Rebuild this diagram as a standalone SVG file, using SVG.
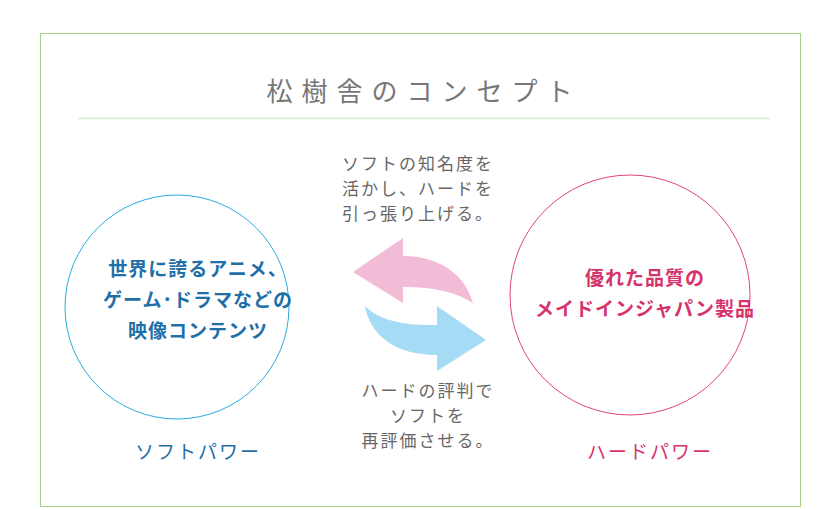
<svg xmlns="http://www.w3.org/2000/svg" width="840" height="510" viewBox="0 0 840 510">
<style>
.t{font-family:"Liberation Serif","Noto Sans CJK JP",serif;}
.g{fill:#666;font-size:17px;}
.b{font-weight:bold;font-size:19px;}
</style>
<rect width="840" height="510" fill="#fff"/>
<rect x="40.5" y="33.5" width="760" height="473" fill="none" stroke="#a9d18e"/>
<g id="title">
<text class="t" x="424" y="101" text-anchor="middle" font-size="26" fill="#777" letter-spacing="9">松樹舎のコンセプト</text>
<line x1="78" y1="118.5" x2="770" y2="118.5" stroke="#d8ebc8" stroke-width="1.5"/>
</g>
<g id="soft">
<circle cx="177" cy="307" r="112" fill="none" stroke="#29abe2"/>
<text class="t b" fill="#1f6fa8" text-anchor="middle" letter-spacing="1"><tspan x="198" y="276">世界に誇るアニメ、</tspan><tspan x="198" y="307">ゲーム･ドラマなどの</tspan><tspan x="198" y="338">映像コンテンツ</tspan></text>
<text class="t" x="198" y="459" text-anchor="middle" font-size="19" fill="#1f6fa8" letter-spacing="2">ソフトパワー</text>
</g>
<g id="hard">
<circle cx="630" cy="295" r="120" fill="none" stroke="#e0437f"/>
<text class="t b" fill="#d6336c" text-anchor="middle" letter-spacing="1"><tspan x="645" y="285">優れた品質の</tspan><tspan x="645" y="316">メイドインジャパン製品</tspan></text>
<text class="t" x="650" y="459" text-anchor="middle" font-size="19" fill="#d6336c" letter-spacing="2">ハードパワー</text>
</g>
<g id="connectors">
<path d="M353,272 L403,238 L403,256 C440,256 465,275 473,303 C455,292 435,287 403,287 L403,303 Z" fill="#f2bbd6"/>
<path d="M486,340 L437,306 L437,325 C405,326 378,320 365,306 C370,335 395,355 437,355 L437,371 Z" fill="#a6dbf5"/>
</g>
<g id="labels">
<text class="t g" text-anchor="middle" letter-spacing="2"><tspan x="418" y="170">ソフトの知名度を</tspan><tspan x="418" y="195">活かし、ハードを</tspan><tspan x="418" y="220">引っ張り上げる。</tspan></text>
<text class="t g" text-anchor="middle" letter-spacing="2"><tspan x="428" y="397">ハードの評判で</tspan><tspan x="428" y="422">ソフトを</tspan><tspan x="428" y="447">再評価させる。</tspan></text>
</g>
</svg>
